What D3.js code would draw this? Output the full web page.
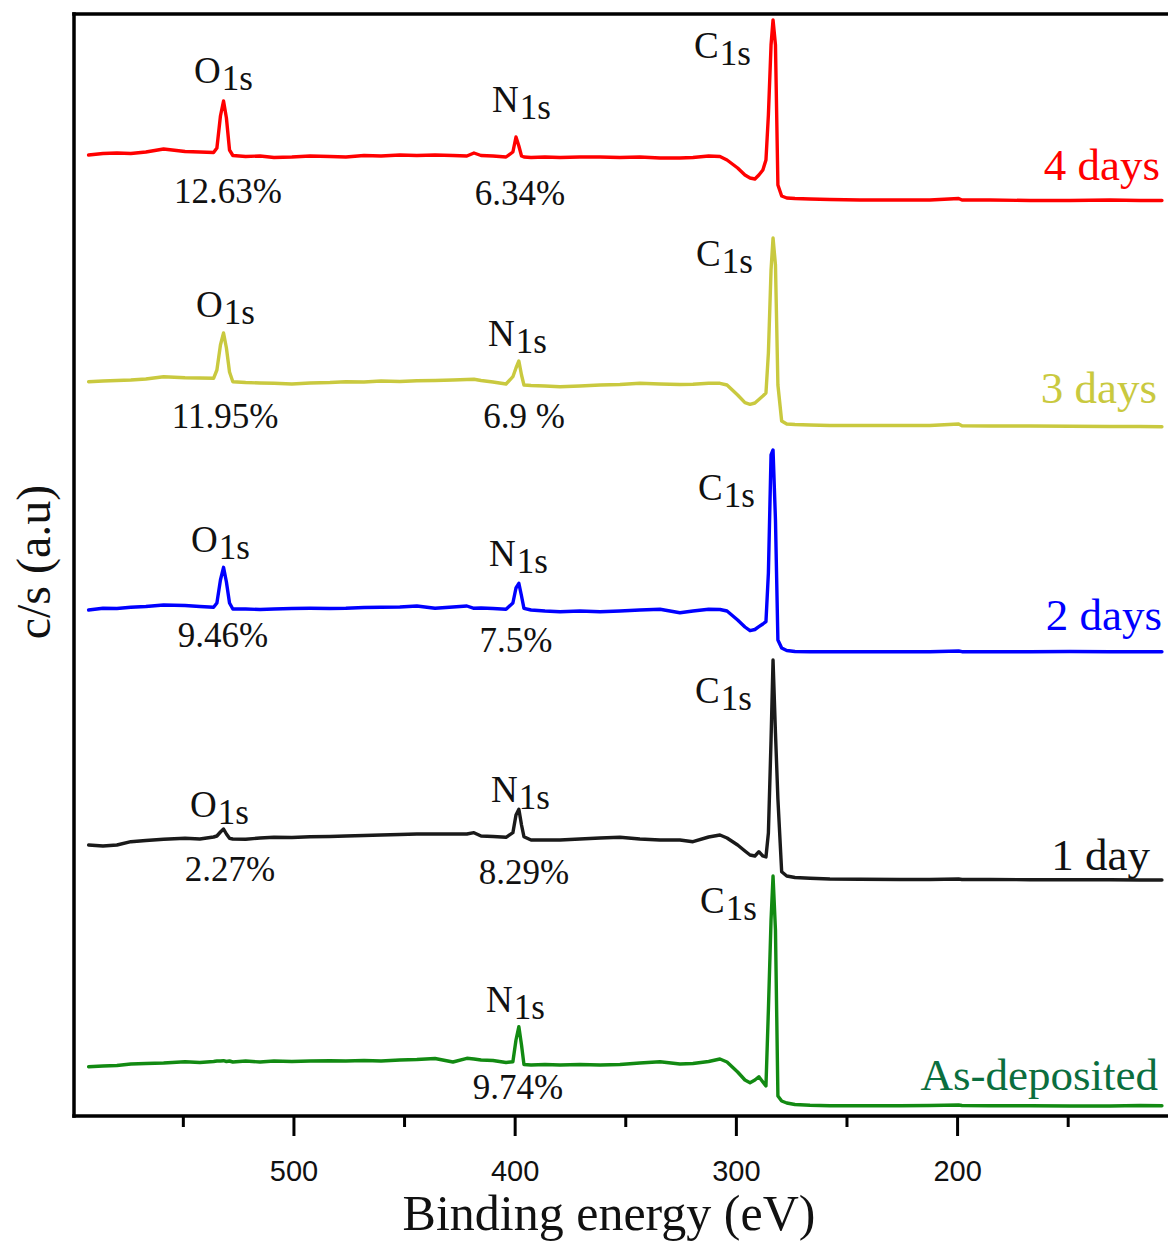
<!DOCTYPE html>
<html>
<head>
<meta charset="utf-8">
<script src="https://cdn.jsdelivr.net/npm/d3@7"></script>
<style>
  html, body { margin: 0; padding: 0; background: #fff; }
  svg { display: block; }
</style>
</head>
<body>
<svg id="chart" width="1168" height="1241"></svg>
<script>
// XPS survey spectra, binding energy (eV) shared by every spectrum
const energy = [
  592.6, 586.1, 579.8, 573.5, 566.7, 558.7, 549.0, 542.3, 536.1, 534.6,
  533.0, 531.6, 530.3, 528.9, 527.4, 521.6, 515.1, 508.8, 500.7, 492.5,
  483.5, 476.3, 468.1, 460.4, 451.9, 444.2, 436.0, 427.9, 421.6, 418.4,
  415.2, 409.8, 403.9, 400.8, 399.4, 398.1, 396.9, 395.8, 392.6, 386.3,
  379.5, 370.5, 361.4, 352.4, 343.4, 334.3, 325.3, 319.4, 312.3, 307.2,
  304.0, 299.2, 295.9, 293.6, 291.4, 289.6, 287.8, 286.4, 285.3, 284.1,
  283.2, 282.1, 281.0, 279.3, 277.0, 273.3, 266.5, 257.5, 243.9, 225.8,
  212.3, 199.3, 197.8, 185.1, 167.0, 149.0, 130.9, 117.3, 107.4
];

// Intensity (a.u.) of each spectrum, before vertical stacking
const days4 = [
  6.1, 6.25, 6.3, 6.25, 6.4, 6.7, 6.45, 6.4, 6.35, 6.8,
  10.0, 11.5, 9.8, 6.6, 6.05, 5.95, 6.0, 5.85, 5.9, 6.0,
  5.95, 5.9, 6.05, 6.0, 6.1, 6.05, 6.1, 6.05, 6.0, 6.3,
  6.05, 6.0, 5.9, 6.4, 7.9, 7.0, 6.0, 5.9, 5.85, 5.9,
  5.85, 5.9, 5.9, 5.85, 5.9, 5.8, 5.8, 5.85, 6.0, 5.95,
  5.6, 4.8, 4.1, 3.8, 3.7, 4.1, 4.6, 5.6, 10.1, 17.1,
  19.6, 17.1, 3.1, 2.0, 1.8, 1.75, 1.7, 1.65, 1.6, 1.6,
  1.6, 1.75, 1.6, 1.6, 1.55, 1.55, 1.6, 1.55, 1.55
];
const days3 = [
  5.93, 6.0, 6.05, 6.1, 6.2, 6.43, 6.33, 6.3, 6.27, 7.1,
  9.6, 10.8, 9.3, 6.9, 5.93, 5.85, 5.8, 5.77, 5.7, 5.8,
  5.85, 5.93, 5.9, 6.0, 5.95, 6.03, 6.05, 6.1, 6.15, 6.17,
  6.05, 5.9, 5.7, 6.43, 7.3, 8.0, 6.6, 5.6, 5.55, 5.5,
  5.43, 5.5, 5.6, 5.65, 5.77, 5.7, 5.65, 5.67, 5.77, 5.77,
  5.6, 4.6, 3.83, 3.67, 3.8, 4.15, 4.5, 4.8, 8.8, 17.1,
  20.3, 17.6, 5.6, 2.0, 1.7, 1.65, 1.6, 1.55, 1.55, 1.55,
  1.55, 1.7, 1.53, 1.5, 1.5, 1.48, 1.45, 1.45, 1.43
];
const days2 = [
  5.6, 5.77, 5.75, 5.87, 5.95, 6.1, 6.05, 5.95, 5.87, 6.3,
  8.6, 9.87, 8.4, 6.3, 5.7, 5.7, 5.65, 5.7, 5.75, 5.77,
  5.75, 5.77, 5.85, 5.87, 5.9, 6.0, 5.77, 5.9, 6.0, 5.77,
  5.8, 5.75, 5.67, 6.3, 7.8, 8.27, 7.0, 5.77, 5.6, 5.5,
  5.43, 5.5, 5.43, 5.5, 5.6, 5.67, 5.33, 5.5, 5.67, 5.65,
  5.5, 4.6, 3.9, 3.53, 3.65, 3.93, 4.2, 4.43, 9.3, 21.1,
  21.6, 14.6, 2.6, 1.8, 1.55, 1.45, 1.43, 1.43, 1.43, 1.43,
  1.43, 1.5, 1.43, 1.43, 1.43, 1.45, 1.43, 1.43, 1.43
];
const day1 = [
  4.6, 4.5, 4.6, 4.93, 5.05, 5.17, 5.27, 5.2, 5.4, 5.5,
  5.9, 6.2, 5.7, 5.27, 5.2, 5.17, 5.3, 5.37, 5.35, 5.43,
  5.45, 5.5, 5.55, 5.6, 5.65, 5.7, 5.7, 5.7, 5.7, 5.83,
  5.5, 5.45, 5.37, 5.83, 7.6, 8.17, 6.6, 5.43, 5.1, 5.1,
  5.1, 5.2, 5.3, 5.37, 5.2, 5.1, 5.1, 4.93, 5.4, 5.6,
  5.3, 4.6, 4.0, 3.6, 3.5, 3.93, 3.5, 3.4, 5.8, 15.1,
  23.1, 15.8, 9.2, 1.93, 1.5, 1.35, 1.27, 1.2, 1.17, 1.15,
  1.15, 1.2, 1.15, 1.15, 1.13, 1.13, 1.12, 1.1, 1.1
];
const asDeposited = [
  4.93, 5.0, 5.05, 5.2, 5.25, 5.3, 5.43, 5.35, 5.45, 5.5,
  5.5, 5.53, 5.45, 5.5, 5.4, 5.5, 5.4, 5.5, 5.45, 5.5,
  5.53, 5.5, 5.55, 5.5, 5.6, 5.65, 5.75, 5.4, 5.77, 5.7,
  5.6, 5.55, 5.35, 5.43, 7.6, 8.93, 7.1, 5.15, 5.1, 5.15,
  5.1, 5.15, 5.1, 5.15, 5.3, 5.43, 5.2, 5.25, 5.45, 5.7,
  5.4, 4.4, 3.6, 3.33, 3.6, 3.93, 3.4, 3.0, 10.6, 19.6,
  24.0, 18.6, 2.0, 1.5, 1.3, 1.15, 1.07, 1.03, 1.03, 1.03,
  1.05, 1.1, 1.05, 1.03, 1.03, 1.0, 1.0, 1.05, 1.03
];

// Spectrum names (top to bottom) and their vertical stacking offsets (a.u.)
const seriesNames = ["4 days", "3 days", "2 days", "1 day", "As-deposited"];
const seriesOffsets = [90, 67.5, 45, 22.5, 0];

// Atomic concentrations printed under the O1s and N1s peaks
const oxygenShare = ["12.63%", "11.95%", "9.46%", "2.27%", null];
const nitrogenShare = ["6.34%", "6.9 %", "7.5%", "8.29%", "9.74%"];
const peakNames = ["O1s", "N1s", "C1s"];

// Axis ticks
const xTicks = [500, 400, 300, 200];
const xMinorTicks = [550, 450, 350, 250, 150];

// ---------- styling & layout ----------
const lineColors = ["#ff0000", "#c9c93f", "#0000ff", "#1a1a1a", "#128a12"];
const nameColors = ["#ff0000", "#c9c93f", "#0000ff", "#111111", "#0b6e3e"];
const serif = "'Liberation Serif', 'Times New Roman', serif";
const sans = "'Liberation Sans', Arial, sans-serif";

// annotation anchors as [x, baseline]
const annotationLayout = [
  { O1s: [194, 83],  N1s: [492, 112], C1s: [694, 58],  Op: [228, 203], Np: [520, 205], name: [1160, 180] },
  { O1s: [196, 317], N1s: [488, 346], C1s: [696, 266], Op: [225, 428], Np: [524, 428], name: [1157, 403] },
  { O1s: [191, 552], N1s: [489, 566], C1s: [698, 500], Op: [223, 647], Np: [516, 652], name: [1162, 630] },
  { O1s: [190, 817], N1s: [491, 802], C1s: [695, 703], Op: [230, 881], Np: [524, 884], name: [1150, 870] },
  { O1s: null,       N1s: [486, 1012], C1s: [700, 913], Op: null,      Np: [518, 1099], name: [1158, 1090] }
];

const W = 1168, H = 1241;
const plot = { left: 74, top: 14, bottom: 1116, right: 1178.3 };

const svg = d3.select("#chart");
svg.append("rect").attr("width", W).attr("height", H).attr("fill", "#fff");

const x = d3.scaleLinear().domain([599.2, 100]).range([plot.left, plot.right]);
const y = d3.scaleLinear().domain([0, 110.2]).range([plot.bottom, plot.top]);

const spectra = [days4, days3, days2, day1, asDeposited].map((vals, i) => ({
  name: seriesNames[i],
  offset: seriesOffsets[i],
  points: energy.map((e, k) => [e, vals[k]])
}));

// spectra, stacked by their offsets
const line = d3.line()
  .x(d => x(d[0]))
  .y(d => y(d[1]));

const gLines = svg.append("g");
spectra.slice().reverse().forEach((s) => {
  const i = spectra.indexOf(s);
  gLines.append("path")
    .datum(s.points.map(p => [p[0], p[1] + s.offset]))
    .attr("d", line)
    .attr("fill", "none")
    .attr("stroke", lineColors[i])
    .attr("stroke-width", 3.4)
    .attr("stroke-linejoin", "round")
    .attr("stroke-linecap", "round");
});

// frame
const frame = svg.append("g").attr("stroke", "#000").attr("stroke-width", 3.5).attr("stroke-linecap", "square");
frame.append("line").attr("x1", plot.left).attr("x2", W + 5).attr("y1", plot.top).attr("y2", plot.top);
frame.append("line").attr("x1", plot.left).attr("x2", plot.left).attr("y1", plot.top).attr("y2", plot.bottom);
frame.append("line").attr("x1", plot.left).attr("x2", W + 5).attr("y1", plot.bottom).attr("y2", plot.bottom);

// bottom axis: major ticks with labels, minor ticks without
const major = svg.append("g")
  .attr("transform", `translate(0,${plot.bottom})`)
  .call(d3.axisBottom(x).tickValues(xTicks).tickSize(20).tickPadding(24).tickFormat(d3.format("d")));
major.select(".domain").remove();
major.selectAll(".tick line").attr("stroke", "#000").attr("stroke-width", 3);
major.selectAll(".tick text")
  .attr("font-family", sans).attr("font-size", 29).attr("fill", "#111");

const minor = svg.append("g")
  .attr("transform", `translate(0,${plot.bottom})`)
  .call(d3.axisBottom(x).tickValues(xMinorTicks).tickSize(11).tickFormat(""));
minor.select(".domain").remove();
minor.selectAll(".tick line").attr("stroke", "#000").attr("stroke-width", 3);

// axis titles
svg.append("text")
  .attr("x", 609).attr("y", 1230)
  .attr("text-anchor", "middle")
  .attr("font-family", serif).attr("font-size", 50).attr("fill", "#111")
  .text("Binding energy (eV)");

svg.append("text")
  .attr("transform", "translate(50,562) rotate(-90)")
  .attr("text-anchor", "middle")
  .attr("font-family", serif).attr("font-size", 48).attr("fill", "#111")
  .text("c/s (a.u)");

// peak names, concentrations and series names
const gAnn = svg.append("g").attr("font-family", serif);

function drawPeakName(label, pos) {
  if (!pos) return;
  const t = gAnn.append("text")
    .attr("x", pos[0]).attr("y", pos[1])
    .attr("fill", "#111");
  t.append("tspan").attr("font-size", 37).text(label.charAt(0));
  t.append("tspan").attr("font-size", 35).attr("dx", 1).attr("dy", 7).text(label.slice(1));
}

function drawShare(text, pos) {
  if (!text || !pos) return;
  gAnn.append("text")
    .attr("x", pos[0]).attr("y", pos[1])
    .attr("text-anchor", "middle")
    .attr("font-size", 35).attr("fill", "#111")
    .text(text);
}

spectra.forEach((s, i) => {
  const lay = annotationLayout[i];
  if (oxygenShare[i]) drawPeakName(peakNames[0], lay.O1s);
  drawPeakName(peakNames[1], lay.N1s);
  drawPeakName(peakNames[2], lay.C1s);
  drawShare(oxygenShare[i], lay.Op);
  drawShare(nitrogenShare[i], lay.Np);
  gAnn.append("text")
    .attr("x", lay.name[0]).attr("y", lay.name[1])
    .attr("text-anchor", "end")
    .attr("font-size", 45).attr("fill", nameColors[i])
    .text(s.name);
});
</script>
</body>
</html>
